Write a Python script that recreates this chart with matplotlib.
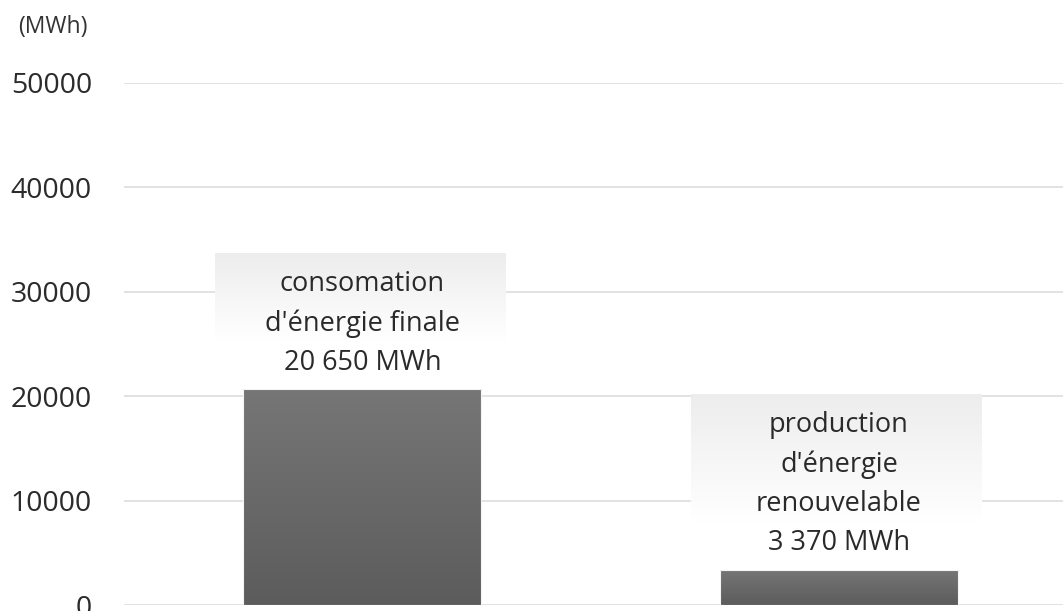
import matplotlib
matplotlib.use("Agg")
import matplotlib.pyplot as plt
import numpy as np
from matplotlib.colors import LinearSegmentedColormap

categories = ["consomation\nd'énergie finale", "production\nd'énergie\nrenouvelable"]
values = [20650, 3370]
value_labels = ["20 650 MWh", "3 370 MWh"]
yticks = [0, 10000, 20000, 30000, 40000, 50000]
unit_label = "(MWh)"

plt.rcParams['font.family'] = ['Open Sans', 'DejaVu Sans']

W, H = 1063, 611
fig = plt.figure(figsize=(W / 100, H / 100), dpi=100)
ax = fig.add_axes([124 / W, 6 / H, 1 - 124 / W, (605 - 83) / H])
ax.set_xlim(-0.5, 1.47)
ax.set_ylim(0, 50000)
ax.set_yticks(yticks)
ax.set_yticklabels([str(t) for t in yticks])
ax.set_xticks([])
for s in ax.spines.values():
    s.set_visible(False)
ax.tick_params(axis='y', length=0, pad=23, labelsize=20.5, labelcolor='#2b2b2b')
ax.yaxis.grid(True, color='#e2e2e2', linewidth=1.4)
ax.set_axisbelow(True)

fig.text(18 / W, 1 - 27 / H, unit_label, fontsize=16.5, color='#333333', va='center', ha='left')

px = 50000 / (605 - 83)  # data units per pixel vertically
bar_w = 0.5
bar_cmap = LinearSegmentedColormap.from_list('bar', ['#5c5c5c', '#767676'])
box_cmap = LinearSegmentedColormap.from_list('box', ['#ffffff', '#ededed'])
grad = np.linspace(0, 1, 256).reshape(-1, 1)

xs = np.arange(len(categories))
bars = ax.bar(xs, values, width=bar_w, color='none', edgecolor='#f4f4f4', linewidth=0.8, zorder=3)
line_h = 39.5
for i, (b, v) in enumerate(zip(bars, values)):
    im = ax.imshow(grad, cmap=bar_cmap, aspect='auto', origin='lower',
                   extent=[xs[i] - bar_w / 2, xs[i] + bar_w / 2, 0, v], zorder=2,
                   vmin=0, vmax=1)
    im.set_clip_path(b)
    lines = categories[i].split('\n') + [value_labels[i]]
    n = len(lines)
    for k, ln in enumerate(lines):
        off = 30 + (n - 1 - k) * line_h
        ax.annotate(ln, xy=(xs[i], v), xytext=(0, off), textcoords='offset pixels',
                    ha='center', va='center_baseline', fontsize=19.5, color='#2a2a2a',
                    zorder=5)
    first_off = 30 + (n - 1) * line_h
    last_cat_off = 30 + line_h
    top = v + (first_off + 27) * px
    bottom = v + (last_cat_off - 22) * px
    ax.imshow(grad, cmap=box_cmap, aspect='auto', origin='lower',
              extent=[xs[i] - 0.31, xs[i] + 0.30, bottom, top], zorder=4, vmin=0, vmax=1)

ax.set_xlim(-0.5, 1.47)
ax.set_ylim(0, 50000)
fig.savefig("out.png", dpi=100)
